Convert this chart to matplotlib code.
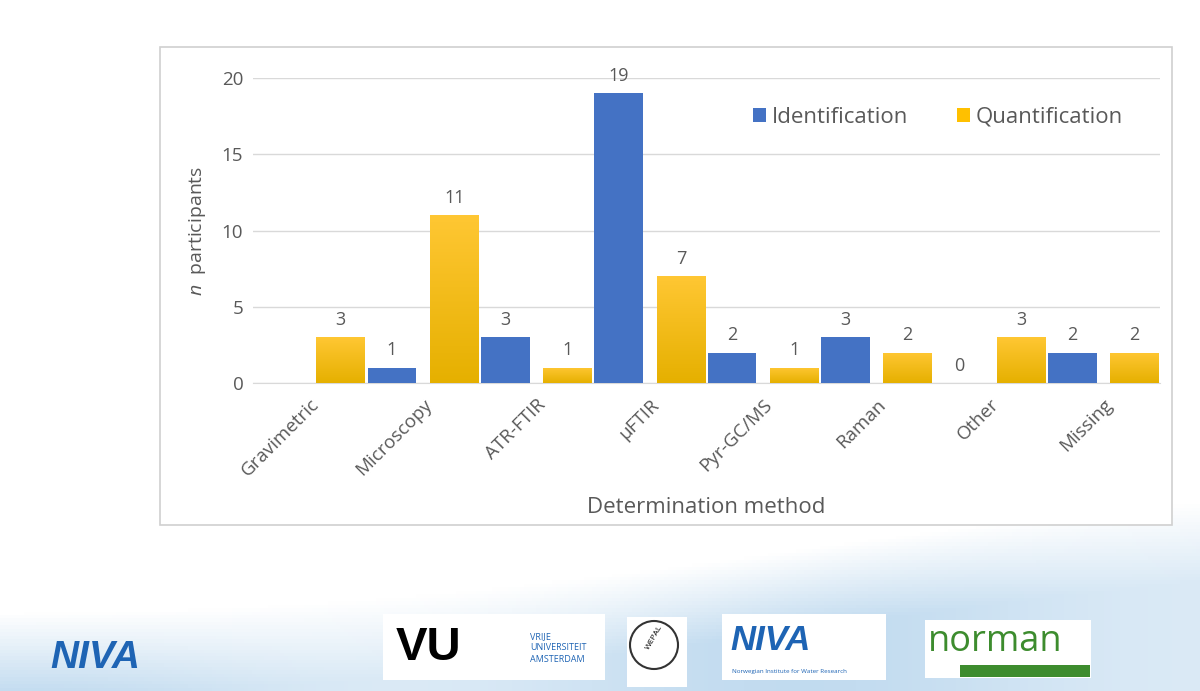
import numpy as np
import matplotlib.pyplot as plt
import matplotlib.transforms as mtransforms
from matplotlib.patches import Rectangle, Circle

'''
######################### Data #########################
'''
methods = ["Gravimetric", "Microscopy", "ATR-FTIR", "\u03bcFTIR",
           "Pyr-GC/MS", "Raman", "Other", "Missing"]
identification = [np.nan, 1, 3, 19, 2, 3, 0, 2]
quantification = [3, 11, 1, 7, 1, 2, 3, 2]
y_ticks = [0, 5, 10, 15, 20]

blue = "#4472C4"
gold = "#FFC000"
txt = "#595959"

plt.rcParams['font.family'] = ['Open Sans', 'DejaVu Sans']
plt.rcParams['mathtext.fontset'] = 'custom'
plt.rcParams['mathtext.it'] = 'Open Sans:italic'

fig = plt.figure(figsize=(12, 6.91), dpi=100)

'''
######################### Slide background #########################
'''
bg = fig.add_axes([0, 0, 1, 1], zorder=-10)
bg.set_xlim(0, 1200)
bg.set_ylim(691, 0)
bg.axis("off")
xx, yy = np.meshgrid(np.linspace(0, 1200, 300), np.linspace(0, 691, 200))
edge = 565 + 20 * np.sin(xx / 1200 * np.pi * 1.3 + 0.4) - 0.07 * (xx - 600)
t = np.clip((yy - edge) / 80, 0, 1)
t = t * (0.8 + 0.2 * np.cos(xx / 1200 * np.pi * 3.0))
img = np.ones(xx.shape + (3,))
light = np.array([0.76, 0.86, 0.94])
img = img * (1 - t[..., None]) + light * t[..., None]
bg.imshow(img, extent=[0, 1200, 691, 0], aspect="auto", zorder=0)

# chart frame
bg.add_patch(Rectangle((160, 47), 1012, 478, facecolor="white",
                       edgecolor="#D0D0D0", lw=1.2, zorder=1))

# logos (text approximations)
bg.text(50, 658, "NIVA", color="#1E64B4", fontsize=28, fontweight="bold",
        fontstyle="italic", va="center", ha="left", family="Liberation Sans")
bg.add_patch(Rectangle((383, 614), 222, 66, facecolor="white", edgecolor="none", zorder=1))
bg.text(396, 648, "VU", color="black", fontsize=34, fontweight="bold",
        va="center", ha="left", family="Liberation Sans", zorder=2)
bg.text(530, 648, "VRIJE\nUNIVERSITEIT\nAMSTERDAM", color="#1E64B4", fontsize=6.5,
        va="center", ha="left", linespacing=1.3, zorder=2)
bg.add_patch(Rectangle((627, 617), 60, 70, facecolor="white", edgecolor="none", zorder=1))
bg.add_patch(Circle((654, 645), 24, facecolor="white", edgecolor="#333333", lw=1.5, zorder=2))
bg.text(654, 638, "WEPAL", fontsize=6, rotation=60, ha="center", va="center", zorder=3)
bg.add_patch(Rectangle((722, 614), 164, 66, facecolor="white", edgecolor="none", zorder=1))
bg.text(730, 640, "NIVA", color="#1E64B4", fontsize=25, fontweight="bold",
        fontstyle="italic", va="center", ha="left", family="Liberation Sans", zorder=2)
bg.text(732, 671, "Norwegian Institute for Water Research", color="#1E64B4",
        fontsize=4.5, va="center", ha="left", zorder=2)
bg.add_patch(Rectangle((925, 620), 166, 58, facecolor="white", edgecolor="none", zorder=1))
bg.add_patch(Rectangle((960, 665), 130, 12, facecolor="#3D8C2E", edgecolor="none", zorder=2))
bg.text(928, 642, "norman", color="#3D8C2E", fontsize=26, va="center", ha="left",
        zorder=3)

'''
######################### Chart #########################
'''
ax = fig.add_axes([253 / 1200, 1 - 383 / 691, 907 / 1200, 305 / 691])
ax.set_facecolor("none")
x = np.arange(len(methods))
w = 0.43
off = 0.275

b_id = ax.bar(x - off, identification, w, color=blue, label="Identification", zorder=3)
b_q = ax.bar(x + off, quantification, w, color=gold, label="Quantification", zorder=3)

# gradient fill for the yellow bars
grad = np.linspace(0, 1, 100)[:, None]
cols = np.array([0.90, 0.69, 0.0]) * (1 - grad[..., None]) + np.array([1.0, 0.78, 0.20]) * grad[..., None]
cols = np.repeat(cols, 2, axis=1)
for bar in b_q:
    bx, by = bar.get_x(), bar.get_y()
    im = ax.imshow(cols, extent=[bx, bx + bar.get_width(), by, by + bar.get_height()],
                   origin="lower", aspect="auto", zorder=3.5)
    im.set_clip_path(bar)
ax.set_xlim(-0.5, len(methods) - 0.5)
ax.set_ylim(0, 20)

lab_id = ["" if np.isnan(v) else f"{v:.0f}" for v in identification]
lab_q = [f"{v:.0f}" for v in quantification]
ax.bar_label(b_id, labels=lab_id, padding=6, color=txt, fontsize=13)
ax.bar_label(b_q, labels=lab_q, padding=6, color=txt, fontsize=13)

ax.set_yticks(y_ticks)
ax.set_xticks(x)
ax.set_xticklabels(methods, rotation=45, ha="right", va="top",
                   rotation_mode="anchor", fontsize=13.5, color=txt)
shift = mtransforms.ScaledTranslation(-10 / 100, 2 / 100, fig.dpi_scale_trans)
for lbl in ax.get_xticklabels():
    lbl.set_transform(lbl.get_transform() + shift)
ax.tick_params(axis="y", length=0, pad=7, labelsize=13.5, labelcolor=txt)
ax.tick_params(axis="x", length=0, pad=9)
ax.grid(axis="y", color="#D9D9D9", lw=1, zorder=0)
for s in ["top", "right", "left"]:
    ax.spines[s].set_visible(False)
ax.spines["bottom"].set_color("#D9D9D9")

ax.set_ylabel(r"$n$  participants", fontsize=14, color=txt, labelpad=10)
ax.set_xlabel("Determination method", fontsize=16, color=txt, labelpad=12)

ax.legend(handles=[b_id, b_q], loc="center", bbox_to_anchor=(0.755, 0.872), ncol=2,
          frameon=False, fontsize=16, labelcolor=txt, handlelength=0.6,
          handleheight=0.6, handletextpad=0.25, columnspacing=2.2)

fig.savefig("out.png", dpi=100)
